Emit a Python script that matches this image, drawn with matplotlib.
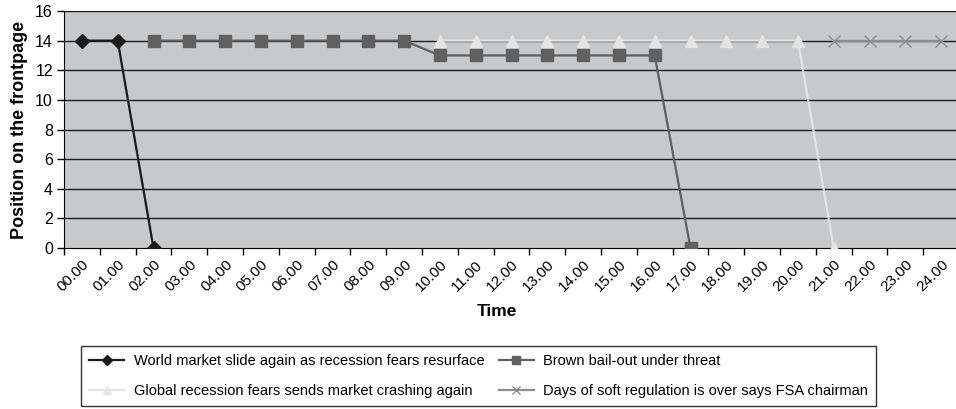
import numpy as np
import matplotlib.pyplot as plt

# --- données ---
heures = ["00.00", "01.00", "02.00", "03.00", "04.00", "05.00", "06.00", "07.00",
          "08.00", "09.00", "10.00", "11.00", "12.00", "13.00", "14.00", "15.00",
          "16.00", "17.00", "18.00", "19.00", "20.00", "21.00", "22.00", "23.00", "24.00"]

nan = np.nan
world = [14, 14, 0] + [nan] * 22
brown = [nan, nan] + [14] * 8 + [13] * 7 + [0] + [nan] * 7
glob = [nan] * 10 + [14] * 11 + [0] + [nan] * 3
fsa = [nan] * 21 + [14] * 4

labels = [
    "World market slide again as recession fears resurface",
    "Brown bail-out under threat",
    "Global recession fears sends market crashing again",
    "Days of soft regulation is over says FSA chairman",
]

plt.rcParams["font.family"] = ["Liberation Sans", "DejaVu Sans"]

x = np.arange(len(heures))

fig = plt.figure(figsize=(9.56, 4.09), dpi=100)
ax = fig.add_axes([64 / 956, 1 - 248 / 409, (959 - 64) / 956, (248 - 11) / 409])
ax.set_facecolor("#c8c9cb")

# grille horizontale
for yv in range(2, 17, 2):
    ax.axhline(yv, color="#1e1e1e", lw=1.0, zorder=1)

l1, = ax.plot(x, world, color="#1a1a1a", lw=1.6, marker="D", ms=7, zorder=3)
l2, = ax.plot(x, brown, color="#606060", lw=1.6, marker="s", ms=8, zorder=3)
l3, = ax.plot(x, glob, color="#e4e4e4", lw=1.6, marker="^", ms=9, zorder=3)
l4, = ax.plot(x, fsa, color="#8c8c8c", lw=1.6, marker="x", ms=9, mew=1.0, zorder=3)

ax.set_xlim(-0.5, len(heures) - 0.5)
ax.set_ylim(0, 16)
ax.set_yticks(range(0, 17, 2))
ax.tick_params(axis="y", labelsize=11.5, length=5, width=1, color="black", pad=3)

ax.set_xticks(x)
ax.set_xticklabels(heures, rotation=45, ha="right", rotation_mode="anchor", fontsize=11)
ax.set_xticks(np.arange(len(heures) + 1) - 0.5, minor=True)
ax.tick_params(axis="x", which="major", length=0, pad=7)
ax.tick_params(axis="x", which="minor", length=5, width=1, color="black")

for s in ["top", "right"]:
    ax.spines[s].set_visible(False)
ax.spines["left"].set_color("black")
ax.spines["bottom"].set_color("black")

ax.set_ylabel("Position on the frontpage", fontsize=13, fontweight="bold", labelpad=5)
fig.text(497 / 956, 1 - 312 / 409, "Time", fontsize=12.5, fontweight="bold",
         ha="center", va="center")

# ordre ligne par ligne comme dans Excel
handles = [l1, l3, l2, l4]
leg_labels = [labels[0], labels[2], labels[1], labels[3]]
leg = fig.legend(handles, leg_labels, loc="lower left", bbox_to_anchor=(81 / 956, 3 / 409),
                 ncol=2, fontsize=10.5, frameon=True, fancybox=False, edgecolor="black",
                 handlelength=2.4, handletextpad=0.65, columnspacing=1.0,
                 labelspacing=1.1, borderpad=0.55, borderaxespad=0, markerscale=0.7)
leg.get_frame().set_linewidth(1.0)

fig.savefig("out.png", dpi=100)
